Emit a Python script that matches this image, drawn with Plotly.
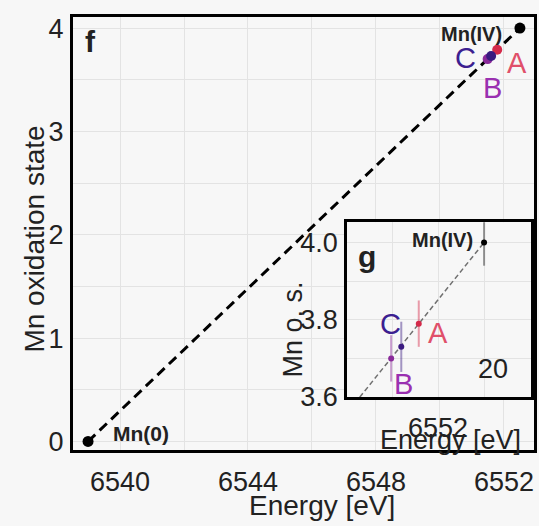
import plotly.graph_objects as go

W, H = 539, 526

# ---- data ----
ref_labels = ["Mn(0)", "Mn(IV)"]
ref_energy = [6539.0, 6552.5]
ref_ox = [0.0, 4.0]
ref_err = [0.06, 0.06]

sample_labels = ["A", "B", "C"]
sample_energy = [6551.79, 6551.49, 6551.60]
sample_ox = [3.79, 3.70, 3.73]
sample_err = [0.06, 0.06, 0.065]
sample_colors = ["#d42a4a", "#8a2a9a", "#3a1a80"]
sample_bar_colors = ["rgba(212,42,74,0.45)", "rgba(138,42,154,0.45)", "rgba(58,26,128,0.45)"]
label_colors = ["#e0506a", "#9a30b0", "#3c2090"]

main_xticks = [6540, 6544, 6548, 6552]
main_yticks = [0, 1, 2, 3, 4]
inset_xticks = [6552]
inset_yticks = [3.6, 3.8, 4.0]
inset_ytext = ["3.6", "3.8", "4.0"]

FONT = "Liberation Sans, Arial, sans-serif"
BG = "#f7f7f7"
TXT = "#222222"
NOTICK = "rgba(0,0,0,0)"


def px(x):
    return x / W


def py(y):
    return 1 - y / H


fig = go.Figure()

# main dashed line
fig.add_trace(go.Scatter(x=ref_energy, y=ref_ox, mode="lines",
                         line=dict(color="black", width=3, dash="10px,6px"),
                         xaxis="x", yaxis="y", showlegend=False, hoverinfo="skip"))
# main samples
for i in range(3):
    fig.add_trace(go.Scatter(x=[sample_energy[i]], y=[sample_ox[i]], mode="markers",
                             marker=dict(color=sample_colors[i], size=10),
                             xaxis="x", yaxis="y", showlegend=False))
fig.add_trace(go.Scatter(x=ref_energy, y=ref_ox, mode="markers",
                         marker=dict(color="black", size=11),
                         xaxis="x", yaxis="y", showlegend=False))

# inset
fig.add_trace(go.Scatter(x=ref_energy, y=ref_ox, mode="lines",
                         line=dict(color="#707070", width=1.5, dash="5px,3px"),
                         xaxis="x2", yaxis="y2", showlegend=False, hoverinfo="skip"))
fig.add_trace(go.Scatter(x=ref_energy, y=ref_ox, mode="markers",
                         marker=dict(color="black", size=6),
                         error_y=dict(type="data", array=ref_err, color="rgba(80,80,80,0.6)",
                                      thickness=2, width=0),
                         xaxis="x2", yaxis="y2", showlegend=False))
for i in range(3):
    fig.add_trace(go.Scatter(x=[sample_energy[i]], y=[sample_ox[i]], mode="markers",
                             marker=dict(color=sample_colors[i], size=6),
                             error_y=dict(type="data", array=[sample_err[i]],
                                          color=sample_bar_colors[i], thickness=2, width=0),
                             xaxis="x2", yaxis="y2", showlegend=False))

axis_common = dict(showline=True, mirror=True, linecolor="black", zeroline=False,
                   tickfont=dict(family=FONT, size=27, color=TXT),
                   gridcolor="#e3e3e3", gridwidth=1, ticks="outside", tickcolor=NOTICK)

fig.update_layout(
    width=W, height=H, margin=dict(l=0, r=0, t=0, b=0),
    paper_bgcolor=BG, plot_bgcolor=BG, showlegend=False,
    xaxis=dict(domain=[px(73), px(534)], range=[6538.53, 6552.94], anchor="y",
               tickvals=main_xticks, linewidth=3, ticklen=5,
               minor=dict(dtick=2, tick0=6540, showgrid=True, gridcolor="#e3e3e3"),
               **axis_common),
    yaxis=dict(domain=[py(463), py(14)], range=[-0.084, 4.112], anchor="x",
               tickvals=main_yticks, linewidth=3, ticklen=1,
               minor=dict(dtick=0.5, tick0=0, showgrid=True, gridcolor="#e3e3e3"),
               **axis_common),
    xaxis2=dict(domain=[px(347), px(531)], range=[6551.01, 6553.01], anchor="y2",
                tickvals=inset_xticks, linewidth=2.5, ticklen=5,
                minor=dict(dtick=0.5, tick0=6551, showgrid=True, gridcolor="#e3e3e3"),
                **axis_common),
    yaxis2=dict(domain=[py(408), py(227)], range=[3.6, 4.0525], anchor="x2",
                tickvals=inset_yticks, ticktext=inset_ytext, linewidth=2.5, ticklen=1,
                minor=dict(dtick=0.1, tick0=3.6, showgrid=True, gridcolor="#e3e3e3"),
                **axis_common),
)


def ann(text, x, y, size, color=TXT, bold=False, angle=0):
    t = f"<b>{text}</b>" if bold else text
    fig.add_annotation(text=t, x=px(x), y=py(y), xref="paper", yref="paper",
                       showarrow=False, textangle=angle, xanchor="center", yanchor="middle",
                       font=dict(family=FONT, size=size, color=color))


# axis titles
ann("Energy [eV]", 322, 520, 28)
ann("Mn oxidation state", 35, 245, 28, angle=-90)
ann("Energy [eV]", 450, 453, 27)
ann("Mn o. s.", 293, 338, 27, angle=-90)

# panel letters
ann("f", 90, 40, 30, bold=True)
ann("g", 367, 262, 30, bold=True)
ann("20", 493, 379, 27)

# main labels
ann(ref_labels[1], 471, 32, 20, bold=True)
ann(ref_labels[0], 141, 446, 21, bold=True)
main_lbl_pos = [(517, 62), (492, 88), (465, 57)]
for i, (lx, ly) in enumerate(main_lbl_pos):
    ann(sample_labels[i], lx, ly, 29, color=label_colors[i])

# inset labels
ann(ref_labels[1], 442, 245, 20, bold=True)
inset_lbl_pos = [(438, 342), (403, 395), (390, 332)]
for i, (lx, ly) in enumerate(inset_lbl_pos):
    ann(sample_labels[i], lx, ly, 29, color=label_colors[i])

fig.write_html("out.html")
